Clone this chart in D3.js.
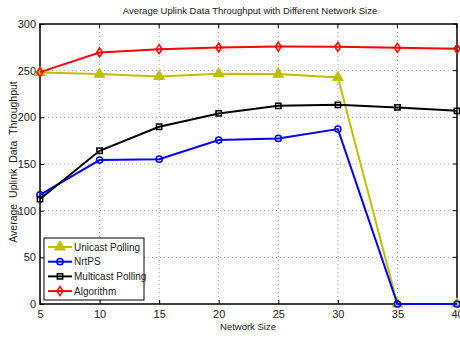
<!DOCTYPE html>
<html>
<head>
<meta charset="utf-8">
<script src="https://cdn.jsdelivr.net/npm/d3@7"></script>
<style>
  body { margin: 0; background: #fff; }
  text { font-family: "Liberation Sans", Arial, sans-serif; }
</style>
</head>
<body>
<div id="container"></div>
<script>
let w = 460;
let h = 345;

// data
let networkSize = [5, 10, 15, 20, 25, 30, 35, 40];
let unicastPolling = [248, 246.3, 243.8, 246.6, 246.3, 242.7, 0, 0];
let nrtPS = [117, 154.2, 155.2, 175.6, 177.4, 187.4, 0, 0];
let multicastPolling = [112.4, 164.2, 189.9, 204.2, 212.3, 213.4, 210.6, 207];
let algorithm = [248.4, 269.5, 273, 274.8, 275.8, 275.5, 274.5, 273.4];
let yTicks = [0, 50, 100, 150, 200, 250, 300];

let series = [
  {name: "Unicast Polling", values: unicastPolling, color: "#bfbf00", marker: "triangle"},
  {name: "NrtPS", values: nrtPS, color: "#0000ff", marker: "circle"},
  {name: "Multicast Polling", values: multicastPolling, color: "#000000", marker: "square"},
  {name: "Algorithm", values: algorithm, color: "#ff0000", marker: "diamond"}
];

let plotLeft = 40, plotRight = 457, plotTop = 24, plotBottom = 304;

let viz = d3.select("#container")
  .append("svg")
    .attr("width", w)
    .attr("height", h)
    .style("background-color", "white");

let xScale = d3.scaleLinear().domain([5, 40]).range([plotLeft, plotRight]);
let yScale = d3.scaleLinear().domain([0, 300]).range([plotBottom, plotTop]);

// grid
let grid = viz.append("g");
grid.selectAll(".vg").data(networkSize.slice(1, -1)).enter().append("line")
  .attr("x1", d => xScale(d)).attr("x2", d => xScale(d))
  .attr("y1", plotTop).attr("y2", plotBottom)
  .attr("stroke", "#888").attr("stroke-width", 0.8).attr("stroke-dasharray", "1,3");
grid.selectAll(".hg").data(yTicks.slice(1, -1)).enter().append("line")
  .attr("x1", plotLeft).attr("x2", plotRight)
  .attr("y1", d => yScale(d)).attr("y2", d => yScale(d))
  .attr("stroke", "#888").attr("stroke-width", 0.8).attr("stroke-dasharray", "1,3");

// axes
let xAxis = d3.axisBottom(xScale).tickValues(networkSize).tickSize(-4).tickPadding(6);
let xAxisGroup = viz.append("g").attr("transform", "translate(0," + plotBottom + ")").call(xAxis);
let yAxis = d3.axisLeft(yScale).tickValues(yTicks).tickSize(-4).tickPadding(4);
let yAxisGroup = viz.append("g").attr("transform", "translate(" + plotLeft + ",0)").call(yAxis);
[xAxisGroup, yAxisGroup].forEach(function(g){
  g.select(".domain").remove();
  g.selectAll("line").attr("stroke", "#000");
  g.selectAll("text").attr("font-size", 11).attr("fill", "#222")
    .attr("font-family", "Liberation Sans, Arial, sans-serif");
});
// top / right ticks
viz.append("g").selectAll("line").data(networkSize).enter().append("line")
  .attr("x1", d => xScale(d)).attr("x2", d => xScale(d))
  .attr("y1", plotTop).attr("y2", plotTop + 4).attr("stroke", "#000");
viz.append("g").selectAll("line").data(yTicks).enter().append("line")
  .attr("x1", plotRight).attr("x2", plotRight - 4)
  .attr("y1", d => yScale(d)).attr("y2", d => yScale(d)).attr("stroke", "#000");

viz.append("rect")
  .attr("x", plotLeft).attr("y", plotTop)
  .attr("width", plotRight - plotLeft).attr("height", plotBottom - plotTop)
  .attr("fill", "none").attr("stroke", "#000").attr("stroke-width", 1.5);

// lines + markers
function symbolFor(m){
  if(m == "triangle") return d3.symbol().type(d3.symbolTriangle).size(40)();
  if(m == "circle") return d3.symbol().type(d3.symbolCircle).size(30)();
  if(m == "square") return d3.symbol().type(d3.symbolSquare).size(28)();
  return "M0,-4.5L3,0L0,4.5L-3,0Z";
}

let line = d3.line()
  .x((d, i) => xScale(networkSize[i]))
  .y(d => yScale(d));

series.forEach(function(s){
  let g = viz.append("g");
  g.append("path").datum(s.values)
    .attr("d", line)
    .attr("fill", "none")
    .attr("stroke", s.color)
    .attr("stroke-width", 2);
  g.selectAll("path.m").data(s.values).enter().append("path")
    .attr("class", "m")
    .attr("d", symbolFor(s.marker))
    .attr("transform", (d, i) => "translate(" + xScale(networkSize[i]) + "," + yScale(d) + ")")
    .attr("fill", s.marker == "triangle" ? s.color : "none")
    .attr("stroke", s.color)
    .attr("stroke-width", 1.5);
});

// legend
let lg = viz.append("g").attr("transform", "translate(44,238)");
lg.append("rect").attr("width", 100).attr("height", 62)
  .attr("fill", "white").attr("stroke", "#000").attr("stroke-width", 1);
series.forEach(function(s, i){
  let yy = 9 + i * 14.7;
  lg.append("line").attr("x1", 4).attr("x2", 28).attr("y1", yy).attr("y2", yy)
    .attr("stroke", s.color).attr("stroke-width", 2);
  lg.append("path").attr("d", symbolFor(s.marker))
    .attr("transform", "translate(16," + yy + ")")
    .attr("fill", s.marker == "triangle" ? s.color : "none")
    .attr("stroke", s.color).attr("stroke-width", 1.5);
  lg.append("text").attr("x", 30).attr("y", yy + 3.5)
    .attr("font-size", 10).attr("fill", "#222").text(s.name);
});

// titles
viz.append("text").attr("x", 250).attr("y", 14).attr("text-anchor", "middle")
  .attr("font-size", 9.5).attr("fill", "#222")
  .text("Average Uplink Data Throughput with Different Network Size");
viz.append("text").attr("x", 248).attr("y", 330).attr("text-anchor", "middle")
  .attr("font-size", 9.5).attr("fill", "#222").text("Network Size");
viz.append("text")
  .attr("transform", "translate(17,162) rotate(-90)")
  .attr("text-anchor", "middle")
  .attr("font-size", 10.5).attr("word-spacing", 3).attr("fill", "#222")
  .text("Average Uplink Data Throughput");
</script>
</body>
</html>
